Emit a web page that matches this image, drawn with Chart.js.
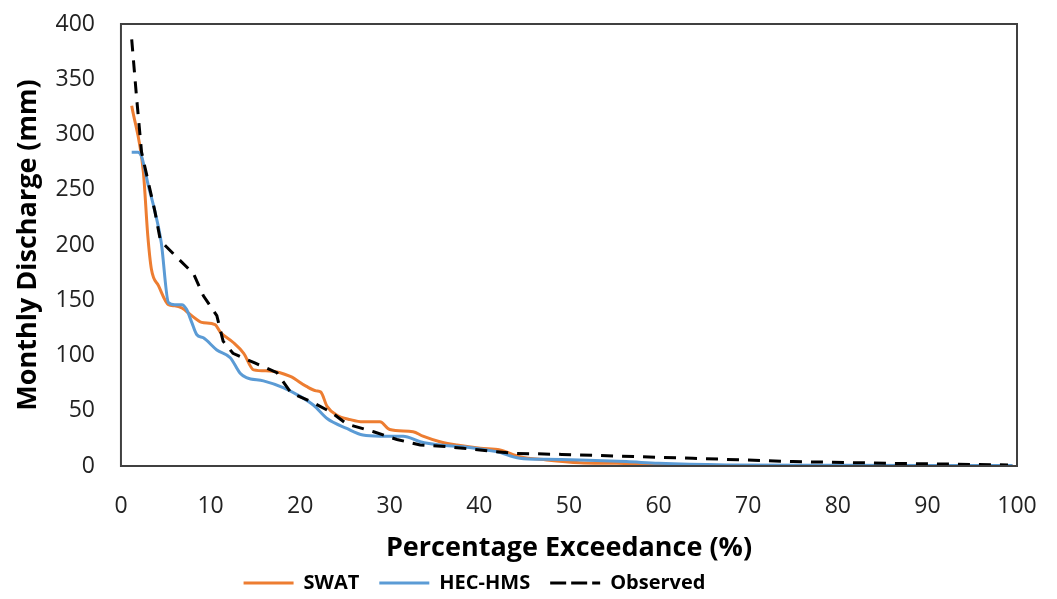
<!DOCTYPE html>
<html>
<head>
<meta charset="utf-8">
<script src="https://cdn.jsdelivr.net/npm/chart.js@4/dist/chart.umd.min.js"></script>
<style>
  html, body { margin: 0; padding: 0; background: #fff; }
  #wrap { width: 1057px; height: 599px; }
</style>
</head>
<body>
<div id="wrap"><canvas id="c" width="1057" height="599"></canvas></div>
<script>
// Percentage exceedance (x) and monthly discharge (y)
const swatX = [1.2, 2.5, 3.0, 3.4, 4.2, 5.3, 6.0, 6.8, 7.9, 9.0, 10.5, 11.1, 12.5, 13.7, 14.8, 16.6, 18.9, 20.7, 21.8, 22.3, 23.0, 24.1, 25.6, 27.0, 28.9, 30.0, 32.6, 33.7, 35.6, 37.5, 40.1, 42.3, 44.5, 47.5, 51.2, 55.3, 60.0, 70.0, 80.0, 90.0, 99.5];
const swatY = [326, 266, 208, 178, 163, 146, 145, 143, 136, 130, 128, 121, 112, 102, 87, 86, 81, 72, 68, 67, 54, 46, 42, 40, 40, 33, 31, 27, 22, 19, 16, 14.5, 8.5, 5.5, 3, 2.4, 1, 0.5, 0.3, 0.2, 0.1];

const hmsX = [1.2, 1.9, 2.3, 3.05, 3.8, 4.5, 5.3, 6.0, 6.8, 7.3, 7.9, 8.45, 9.2, 10.7, 12.2, 13.3, 14.0, 15.9, 18.1, 20.0, 21.5, 23.0, 25.2, 27.0, 28.9, 31.5, 33.4, 35.6, 38.2, 41.9, 44.5, 47.5, 51.2, 56.4, 60.0, 67.6, 80.0, 90.0, 99.5];
const hmsY = [284, 284, 280, 254, 230, 202, 148, 146, 146, 142, 130, 119, 116, 105, 98, 84, 80, 77, 71, 63, 55, 43, 34, 28, 27, 27, 22, 19, 17.5, 13, 7, 6, 5.5, 4, 2.4, 1, 0.6, 0.5, 0.4];

const obsX = [1.2, 1.75, 2.3, 3.8, 4.4, 6.1, 8.1, 9.2, 10.7, 11.4, 12.5, 15.0, 17.4, 19.0, 21.3, 23.5, 25.2, 28.2, 30.8, 33.4, 36.3, 38.2, 41.9, 43.8, 49.2, 63.8, 75.0, 86.0, 99.0];
const obsY = [386, 333, 284, 230, 204, 190, 174, 154, 136, 113, 102, 93, 84.5, 66, 58, 48.5, 38, 31, 24, 19, 17.5, 16, 13, 11.5, 10.5, 7, 4, 2.4, 1];

const xTicks = [0, 10, 20, 30, 40, 50, 60, 70, 80, 90, 100];
const yTicks = [0, 50, 100, 150, 200, 250, 300, 350, 400];

const seriesNames = ['SWAT', 'HEC-HMS', 'Observed'];

function pts(xs, ys) { return xs.map((x, i) => ({ x: x, y: ys[i] })); }

const boxPlugin = {
  id: 'plotBox',
  afterLayout(chart) {
    // shift the legend block so it is centred where the reference has it
    const lg = chart.legend;
    if (lg) { lg.left -= 35; lg.right -= 35; }
  },
  afterDraw(chart) {
    const a = chart.chartArea, ctx = chart.ctx;
    ctx.save();
    ctx.strokeStyle = '#404040';
    ctx.lineWidth = 2;
    ctx.strokeRect(a.left, a.top, a.right - a.left, a.bottom - a.top);
    ctx.restore();
  }
};

const FONT = '"Open Sans", Lato, sans-serif';

new Chart(document.getElementById('c'), {
  type: 'line',
  data: {
    datasets: [
      { label: seriesNames[0], data: pts(swatX, swatY), borderColor: '#ED7D31', backgroundColor: '#ED7D31', borderWidth: 3, pointRadius: 0, cubicInterpolationMode: 'monotone', order: 3 },
      { label: seriesNames[1], data: pts(hmsX, hmsY), borderColor: '#5B9BD5', backgroundColor: '#5B9BD5', borderWidth: 3, pointRadius: 0, cubicInterpolationMode: 'monotone', order: 2 },
      { label: seriesNames[2], data: pts(obsX, obsY), borderColor: '#000000', backgroundColor: '#000000', borderWidth: 3, borderDash: [12, 9], pointRadius: 0, tension: 0, order: 1 }
    ]
  },
  options: {
    responsive: false,
    animation: false,
    layout: { padding: { left: 2, right: 40, top: 24, bottom: 0 } },
    plugins: {
      legend: {
        position: 'bottom',
        maxHeight: 46,
        labels: {
          boxWidth: 50, boxHeight: 0, padding: 20,
          color: '#000',
          sort: (a, b) => a.datasetIndex - b.datasetIndex,
          font: { family: FONT, size: 20, weight: 'bold' }
        }
      },
      tooltip: { enabled: false }
    },
    scales: {
      x: {
        type: 'linear', min: 0, max: 100,
        afterBuildTicks(ax) { ax.ticks = xTicks.map(v => ({ value: v })); },
        grid: { display: true, drawOnChartArea: false, drawTicks: true, tickLength: 24.2, tickColor: 'rgba(0,0,0,0)' },
        border: { display: false },
        ticks: { color: '#222', padding: 2, font: { family: FONT, size: 23 } },
        title: { display: true, text: 'Percentage Exceedance (%)', color: '#000', padding: { top: 21.2, bottom: 0 }, font: { family: FONT, size: 27, weight: 'bold', lineHeight: '10px' } }
      },
      y: {
        type: 'linear', min: 0, max: 400,
        afterBuildTicks(ax) { ax.ticks = yTicks.map(v => ({ value: v })); },
        grid: { display: true, drawOnChartArea: false, drawTicks: true, tickLength: 24, tickColor: 'rgba(0,0,0,0)' },
        border: { display: false },
        ticks: { color: '#222', padding: 2, font: { family: FONT, size: 23 } },
        title: { display: true, text: 'Monthly Discharge (mm)', color: '#000', padding: { top: 9.8, bottom: 9.3 }, font: { family: FONT, size: 27, weight: 'bold' } }
      }
    }
  },
  plugins: [boxPlugin]
});
</script>
</body>
</html>
